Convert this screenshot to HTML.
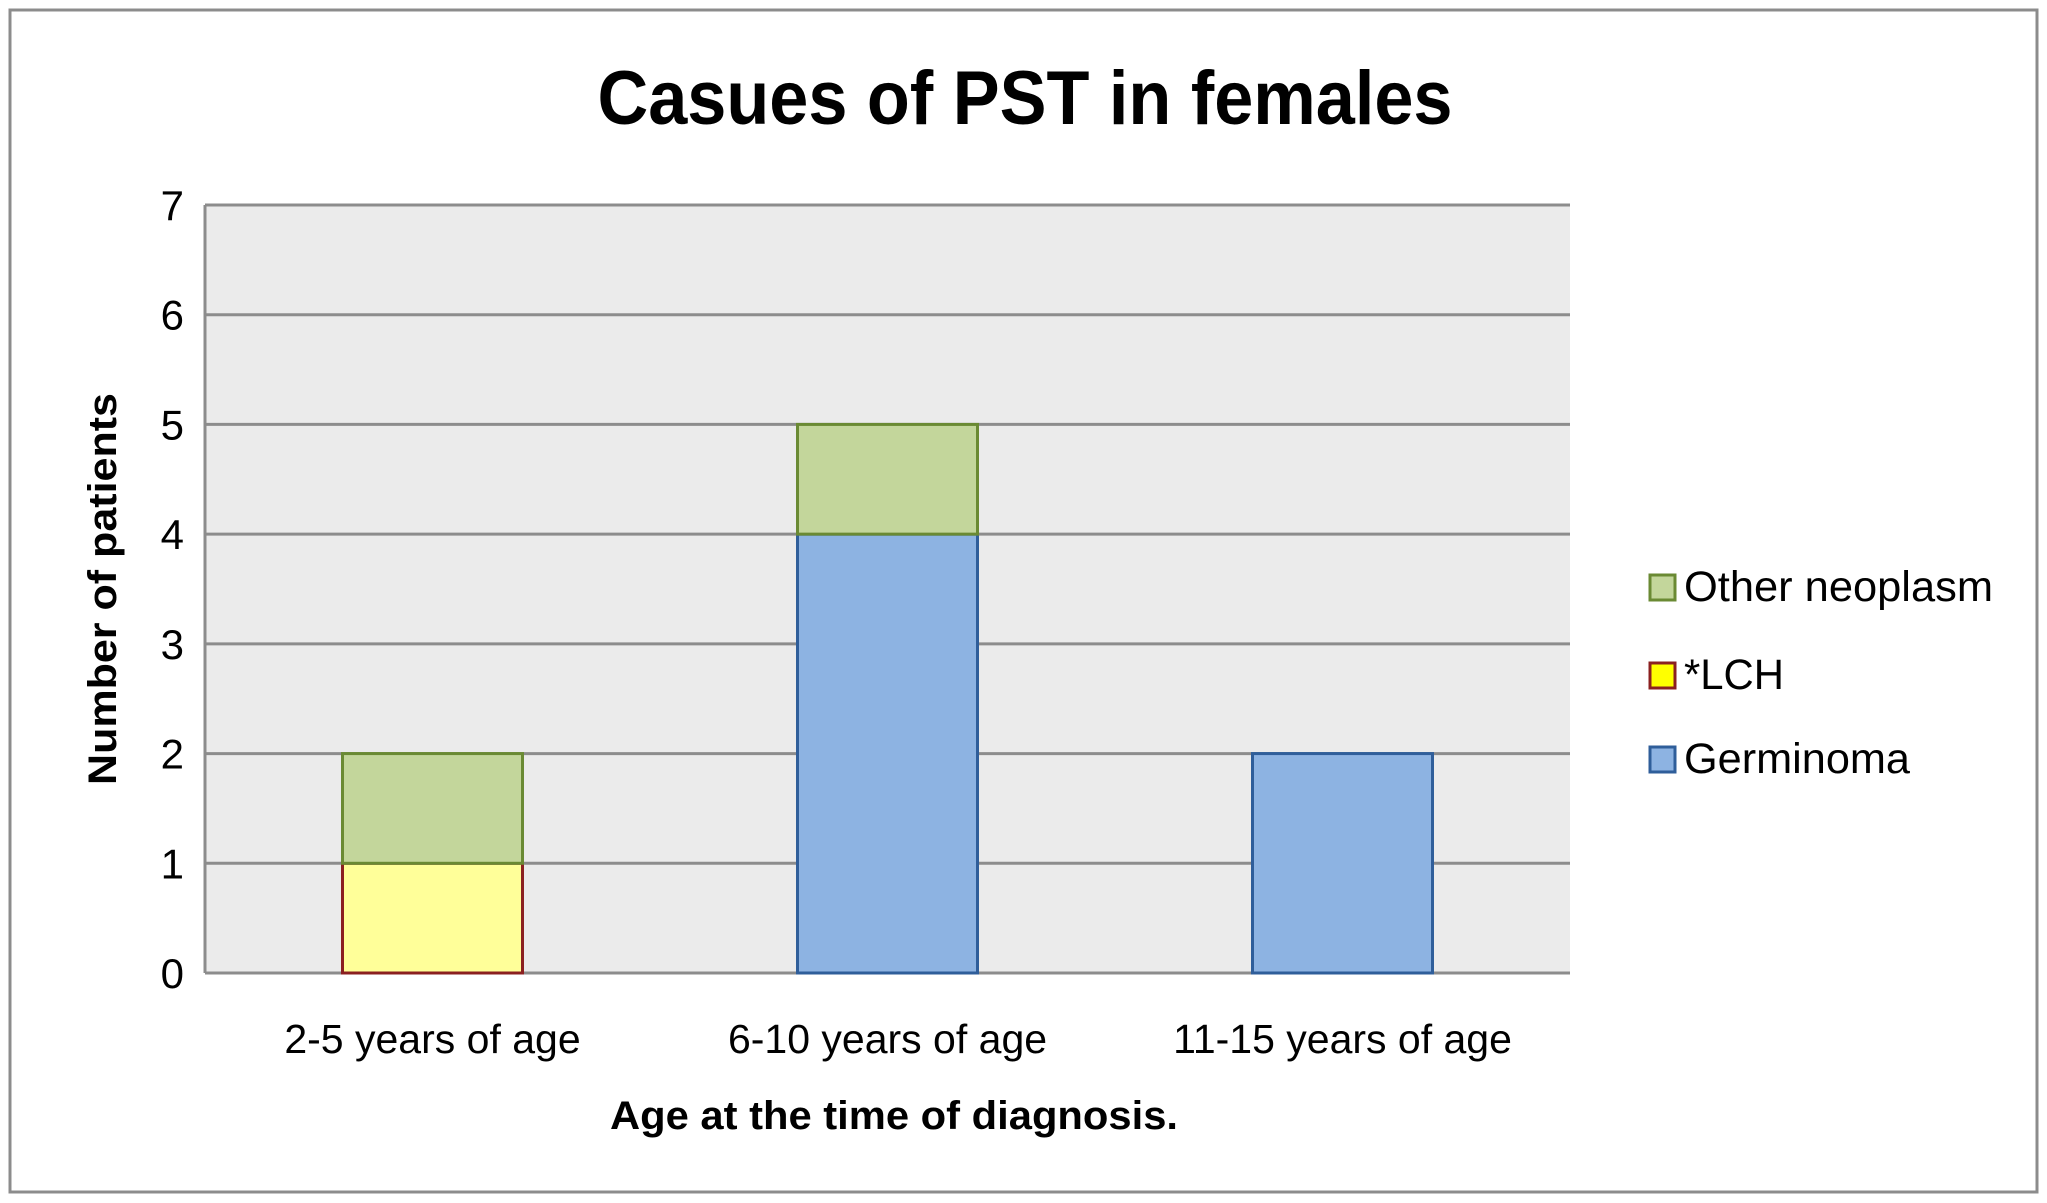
<!DOCTYPE html>
<html><head><meta charset="utf-8"><style>
html,body{margin:0;padding:0;background:#fff}
svg{display:block;font-family:"Liberation Sans",sans-serif}
</style></head><body>
<svg id="chart" width="2047" height="1203" viewBox="0 0 2047 1203">
<rect x="10" y="10" width="2027" height="1182" fill="#fff" stroke="#8c8c8c" stroke-width="3"/>
<text x="1025" y="124" text-anchor="middle" font-size="76" font-weight="bold" textLength="855" lengthAdjust="spacingAndGlyphs">Casues of PST in females</text>
<rect x="205" y="205" width="1365" height="768" fill="#ebebeb"/>
<g id="grid"></g>
<g id="bars"></g>
<g id="yticks"></g>
<g id="xticks"></g>
<text transform="translate(116,589) rotate(-90)" text-anchor="middle" font-size="40" font-weight="bold" textLength="392" lengthAdjust="spacingAndGlyphs">Number of patients</text>
<text x="894" y="1129" text-anchor="middle" font-size="40" font-weight="bold" textLength="568" lengthAdjust="spacingAndGlyphs">Age at the time of diagnosis.</text>
<g>
<g><rect x="1650" y="575" width="25" height="25" fill="#c3d69b" stroke="#6a8a33" stroke-width="3"/><text x="1684" y="601" font-size="43" textLength="309" lengthAdjust="spacingAndGlyphs">Other neoplasm</text></g>
<g><rect x="1650" y="663" width="25" height="25" fill="#ffff00" stroke="#8b2020" stroke-width="3"/><text x="1684" y="689" font-size="43" textLength="100" lengthAdjust="spacingAndGlyphs">*LCH</text></g>
<g><rect x="1650" y="747" width="25" height="25" fill="#8db3e2" stroke="#2f5e9a" stroke-width="3"/><text x="1684" y="773" font-size="43" textLength="226" lengthAdjust="spacingAndGlyphs">Germinoma</text></g>
</g>
</svg>
<script>
const categories = ["2-5 years of age", "6-10 years of age", "11-15 years of age"];
const germinoma = [0, 4, 2];
const lch = [1, 0, 0];
const otherNeoplasm = [1, 1, 0];
const yTicks = [0, 1, 2, 3, 4, 5, 6, 7];

const NS = "http://www.w3.org/2000/svg";
const plotL = 205, plotR = 1570, plotT = 205, plotB = 973, yMax = 7;
const y = v => plotB - v / yMax * (plotB - plotT);
const bandW = (plotR - plotL) / categories.length;
const barW = 180;
const xc = i => plotL + bandW * (i + 0.5);
function mk(tag, attrs, parent) {
  const e = document.createElementNS(NS, tag);
  for (const k in attrs) e.setAttribute(k, attrs[k]);
  parent.appendChild(e);
  return e;
}
const grid = document.getElementById("grid");
const yt = document.getElementById("yticks");
yTicks.forEach(t => {
  const l = mk("line", {x1: plotL, x2: plotR, y1: y(t), y2: y(t), stroke: "#8c8c8c", "stroke-width": 3}, grid);
  
  
  const tx = mk("text", {x: 184, y: y(t) + 15, "text-anchor": "end", "font-size": 42}, yt);
  tx.textContent = t;
  
  
});
mk("line", {x1: plotL, x2: plotL, y1: plotT, y2: plotB, stroke: "#8c8c8c", "stroke-width": 3}, grid);
const bars = document.getElementById("bars");
const xt = document.getElementById("xticks");
const series = [
  {vals: germinoma, fill: "#8db3e2", stroke: "#2f5e9a", name: "bar-germinoma"},
  {vals: lch, fill: "#ffff99", stroke: "#8b2020", name: "bar-lch"},
  {vals: otherNeoplasm, fill: "#c3d69b", stroke: "#6a8a33", name: "bar-other-neoplasm"}
];
categories.forEach((c, i) => {
  let base = 0;
  series.forEach(s => {
    const v = s.vals[i];
    if (v > 0) {
      const r = mk("rect", {x: xc(i) - barW / 2, y: y(base + v), width: barW, height: y(base) - y(base + v), fill: s.fill, stroke: s.stroke, "stroke-width": 3}, bars);
      
      
    }
    base += v;
  });
  const t = mk("text", {x: xc(i), y: 1053, "text-anchor": "middle", "font-size": 41}, xt);
  t.textContent = c;
  
  
});
</script>
</body></html>
